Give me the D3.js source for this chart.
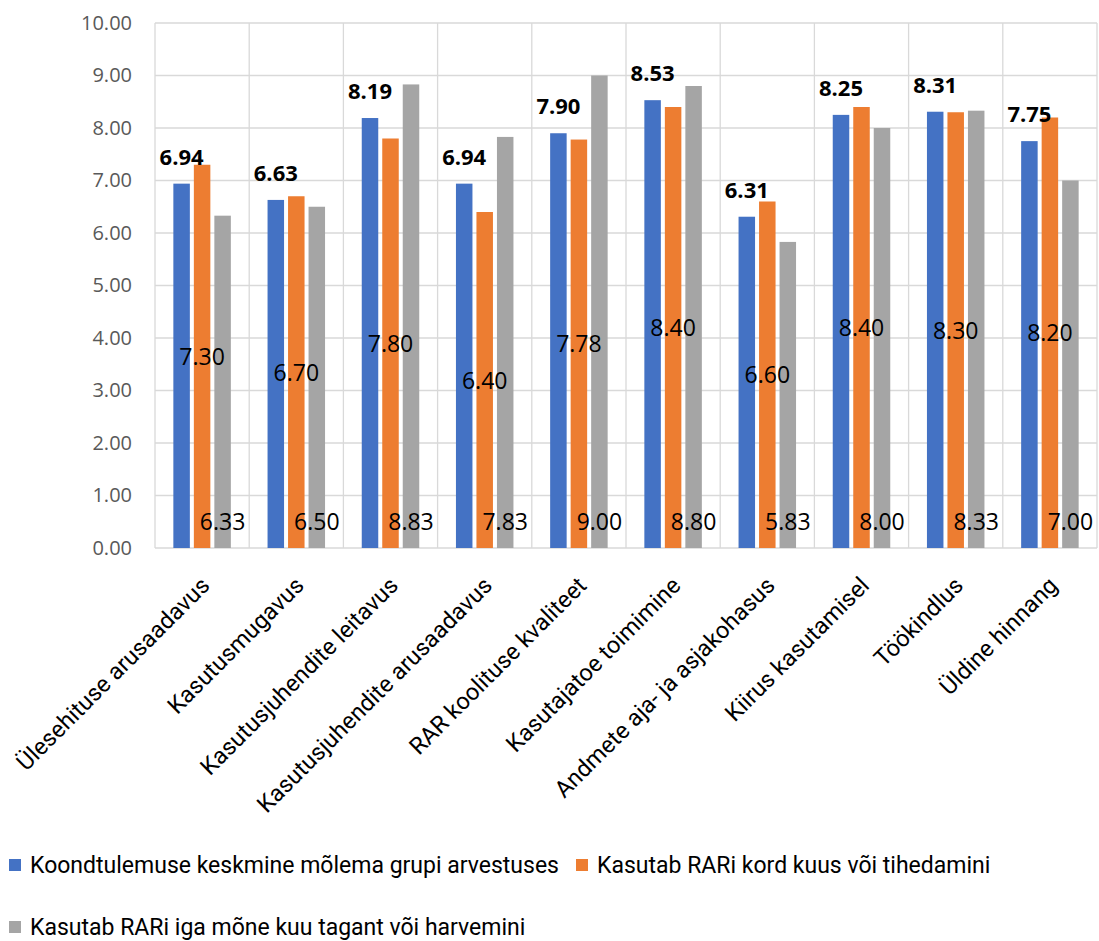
<!DOCTYPE html>
<html>
<head>
<meta charset="utf-8">
<script src="https://cdn.jsdelivr.net/npm/d3@7"></script>
<style>
  html, body { margin: 0; padding: 0; background: #fff; }
  svg { display: block; }
</style>
</head>
<body>
<svg id="chart" width="1099" height="941"></svg>
<script>
const categories = [
  "Ülesehituse arusaadavus",
  "Kasutusmugavus",
  "Kasutusjuhendite leitavus",
  "Kasutusjuhendite arusaadavus",
  "RAR koolituse kvaliteet",
  "Kasutajatoe toimimine",
  "Andmete aja- ja asjakohasus",
  "Kiirus kasutamisel",
  "Töökindlus",
  "Üldine hinnang"
];
const seriesNames = [
  "Koondtulemuse keskmine mõlema grupi arvestuses",
  "Kasutab RARi kord kuus või tihedamini",
  "Kasutab RARi iga mõne kuu tagant või harvemini"
];
const valuesAverage  = [6.94, 6.63, 8.19, 6.94, 7.90, 8.53, 6.31, 8.25, 8.31, 7.75];
const valuesMonthly  = [7.30, 6.70, 7.80, 6.40, 7.78, 8.40, 6.60, 8.40, 8.30, 8.20];
const valuesRarely   = [6.33, 6.50, 8.83, 7.83, 9.00, 8.80, 5.83, 8.00, 8.33, 7.00];
const yTicks = [0, 1, 2, 3, 4, 5, 6, 7, 8, 9, 10];
const colors = ["#4472C4", "#ED7D31", "#A5A5A5"];

const seriesValues = [valuesAverage, valuesMonthly, valuesRarely];

const svg = d3.select("#chart");
const plot = { left: 155, right: 1097, top: 23, bottom: 548 };

const x = d3.scaleBand().domain(categories).range([plot.left, plot.right]).padding(0);
const y = d3.scaleLinear().domain([0, 10]).range([plot.bottom, plot.top]);

const step = x.bandwidth();
const groupW = 57.5;
const sub = d3.scaleBand().domain([0, 1, 2])
  .range([(step - groupW) / 2, (step + groupW) / 2])
  .paddingInner(4 / 20.5).paddingOuter(0);

const gridColor = "#d9d9d9";

// horizontal gridlines
svg.append("g").selectAll("line").data(yTicks).join("line")
  .attr("x1", plot.left).attr("x2", plot.right)
  .attr("y1", d => y(d)).attr("y2", d => y(d))
  .attr("stroke", gridColor).attr("stroke-width", 1.3);

// vertical gridlines at category boundaries
const bounds = categories.map(c => x(c)).concat([plot.right]);
svg.append("g").selectAll("line").data(bounds).join("line")
  .attr("x1", d => d).attr("x2", d => d)
  .attr("y1", plot.top).attr("y2", plot.bottom)
  .attr("stroke", gridColor).attr("stroke-width", 1.3);

// y axis labels
const yAxis = d3.axisLeft(y).tickValues(yTicks).tickFormat(d3.format(".2f")).tickSize(0).tickPadding(23);
const yg = svg.append("g").attr("transform", `translate(${plot.left},0)`).call(yAxis);
yg.select(".domain").remove();
yg.selectAll("text")
  .attr("font-family", "'Open Sans', sans-serif")
  .attr("font-size", 20)
  .attr("fill", "#595959");

// bars
seriesValues.forEach((vals, si) => {
  svg.append("g").selectAll("rect").data(vals).join("rect")
    .attr("x", (d, i) => x(categories[i]) + sub(si))
    .attr("width", sub.bandwidth())
    .attr("y", d => y(d))
    .attr("height", d => y(0) - y(d))
    .attr("fill", colors[si]);
});

// data labels
const fmt = d3.format(".2f");
// series 1: bold, above bar
svg.append("g").selectAll("text").data(valuesAverage).join("text")
  .attr("x", (d, i) => x(categories[i]) + sub(0) + sub.bandwidth() / 2)
  .attr("y", d => y(d) - 19)
  .attr("text-anchor", "middle")
  .attr("font-family", "'Open Sans', sans-serif")
  .attr("font-weight", "bold")
  .attr("font-size", 22)
  .attr("fill", "#000")
  .text(d => fmt(d));
// series 2: centered in bar
svg.append("g").selectAll("text").data(valuesMonthly).join("text")
  .attr("x", (d, i) => x(categories[i]) + sub(1) + sub.bandwidth() / 2)
  .attr("y", d => (y(d) + y(0)) / 2 + 8.5)
  .attr("text-anchor", "middle")
  .attr("font-family", "'Open Sans', sans-serif")
  .attr("font-size", 23)
  .attr("fill", "#000")
  .text(d => fmt(d));
// series 3: inside base
svg.append("g").selectAll("text").data(valuesRarely).join("text")
  .attr("x", (d, i) => x(categories[i]) + sub(2) + sub.bandwidth() / 2)
  .attr("y", y(0) - 18.5)
  .attr("text-anchor", "middle")
  .attr("font-family", "'Open Sans', sans-serif")
  .attr("font-size", 23)
  .attr("fill", "#000")
  .text(d => fmt(d));

// category labels (rotated)
svg.append("g").selectAll("text").data(categories).join("text")
  .attr("transform", d => `translate(${x(d) + step / 2 + 9},${587}) rotate(-45)`)
  .attr("text-anchor", "end")
  .attr("font-family", "Roboto, sans-serif")
  .attr("font-size", 23.5)
  .attr("fill", "#000")
  .text(d => d);

// legend
const legendItems = [
  { name: seriesNames[0], color: colors[0], x: 9, y: 873 },
  { name: seriesNames[1], color: colors[1], x: 576, y: 873 },
  { name: seriesNames[2], color: colors[2], x: 9, y: 935 }
];
const lg = svg.append("g");
legendItems.forEach(it => {
  lg.append("rect").attr("x", it.x).attr("y", it.y - 14).attr("width", 12).attr("height", 12).attr("fill", it.color);
  lg.append("text").attr("x", it.x + 21).attr("y", it.y)
    .attr("font-family", "Roboto, sans-serif").attr("font-size", 23).attr("fill", "#000")
    .text(it.name);
});
</script>
</body>
</html>
